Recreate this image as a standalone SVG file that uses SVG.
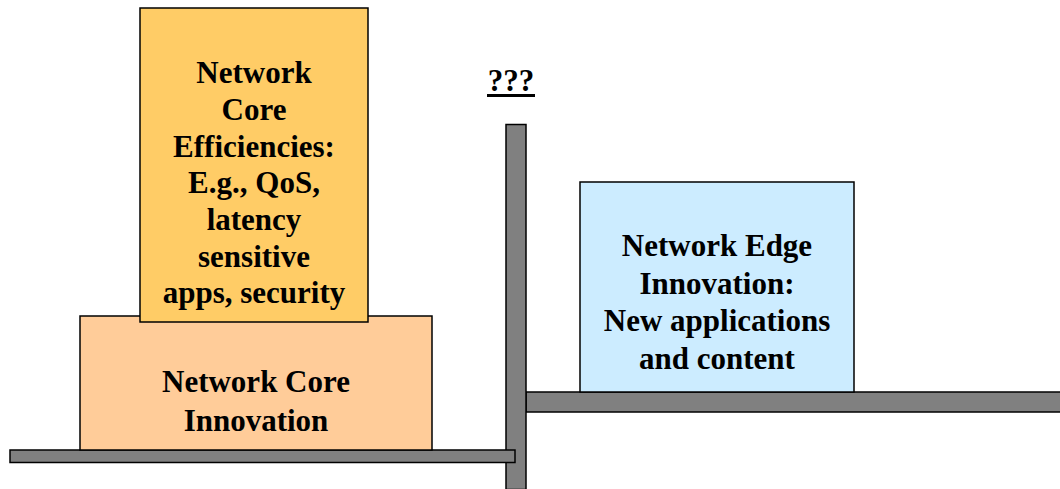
<svg xmlns="http://www.w3.org/2000/svg" width="1060" height="489" viewBox="0 0 1060 489">
  <style>
    .box { stroke: #000; stroke-width: 1.5; }
    .bar { fill: #808080; stroke: #000; stroke-width: 1.5; }
    .lbl { font-family: "Liberation Serif", "Times New Roman", serif; font-weight: bold; font-size: 31px; fill: #000; text-anchor: middle; }
  </style>
  <rect width="1060" height="489" fill="#fff"/>

  <!-- shelves and divider -->
  <g id="shelves">
    <rect class="bar" x="526" y="392" width="536" height="20"/>
    <rect class="bar" x="506" y="124.5" width="20" height="365"/>
    <rect class="bar" x="10" y="450" width="505" height="12.5"/>
  </g>

  <g id="core-innovation">
    <rect class="box" x="80" y="316" width="352" height="134" fill="#FFCC99"/>
    <text class="lbl" x="256" y="392">Network Core</text>
    <text class="lbl" x="256" y="431">Innovation</text>
  </g>

  <g id="core-efficiencies">
    <rect class="box" x="140" y="8" width="228" height="314" fill="#FFCC66"/>
    <text class="lbl" x="254" y="83">Network</text>
    <text class="lbl" x="254" y="120">Core</text>
    <text class="lbl" x="254" y="157">Efficiencies:</text>
    <text class="lbl" x="254" y="193">E.g., QoS,</text>
    <text class="lbl" x="254" y="230">latency</text>
    <text class="lbl" x="254" y="267">sensitive</text>
    <text class="lbl" x="254" y="303">apps, security</text>
  </g>

  <g id="edge-innovation">
    <rect class="box" x="580" y="182" width="274" height="210" fill="#CCECFF"/>
    <text class="lbl" x="717" y="256">Network Edge</text>
    <text class="lbl" x="717" y="294">Innovation:</text>
    <text class="lbl" x="717" y="331">New applications</text>
    <text class="lbl" x="717" y="369">and content</text>
  </g>

  <g id="question">
    <text class="lbl" x="511" y="91">???</text>
    <rect x="487" y="94" width="48" height="3" fill="#000"/>
  </g>
</svg>
